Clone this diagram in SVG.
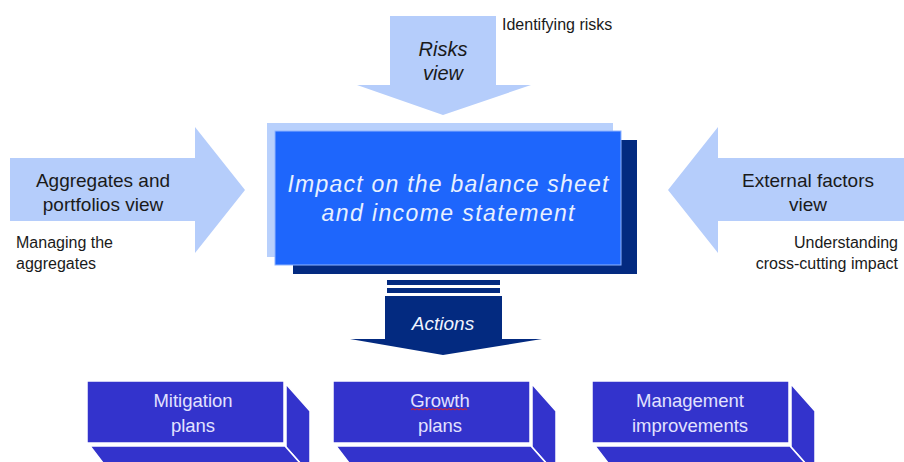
<svg xmlns="http://www.w3.org/2000/svg" width="904" height="462" viewBox="0 0 904 462">
<style>
.light{fill:#b5cdfb}
.dk{fill:#1a1a1a;font-family:"Liberation Sans",Arial,sans-serif}
.big{font-size:19px}
.small{font-size:16px}
.face{fill:#3333cc;stroke:#ffffff;stroke-width:1.5}
.btxt{fill:#e2e2ff;font-family:"Liberation Sans",Arial,sans-serif;font-size:18.5px;text-anchor:middle}
</style>
<rect width="904" height="462" fill="#ffffff"/>

<g id="node-risks">
<polygon class="light" points="390,16 496,16 496,85 531,85 443,115 357,85 390,85"/>
<text class="dk" x="443" y="56" font-size="20" font-style="italic" text-anchor="middle">Risks</text>
<text class="dk" x="443" y="80" font-size="20" font-style="italic" text-anchor="middle">view</text>
<text class="dk small" x="502" y="30">Identifying risks</text>
</g>

<g id="node-aggregates">
<polygon class="light" points="10,158 195,158 195,127 245,190 195,253 195,221 10,221"/>
<text class="dk big" x="103" y="187" text-anchor="middle">Aggregates and</text>
<text class="dk big" x="103" y="211" text-anchor="middle">portfolios view</text>
<text class="dk small" x="16" y="248">Managing the</text>
<text class="dk small" x="16" y="269">aggregates</text>
</g>

<g id="node-external">
<polygon class="light" points="904,158 718,158 718,127 668,190 718,253 718,221 904,221"/>
<text class="dk big" x="808" y="187" text-anchor="middle">External factors</text>
<text class="dk big" x="808" y="211" text-anchor="middle">view</text>
<text class="dk small" x="898" y="248" text-anchor="end">Understanding</text>
<text class="dk small" x="898" y="269" text-anchor="end">cross-cutting impact</text>
</g>

<g id="node-impact">
<rect x="267" y="123" width="346" height="134" fill="#b8d0fc"/>
<rect x="293" y="140" width="344" height="134" fill="#032a80"/>
<rect x="275" y="131" width="346" height="134" fill="#1e66fc" stroke="#8fb4ff" stroke-width="1"/>
<text x="448" y="192" fill="#e8f0ff" font-family="'Liberation Sans',Arial,sans-serif" font-size="23" font-style="italic" text-anchor="middle" textLength="321" lengthAdjust="spacing">Impact on the balance sheet</text>
<text x="448" y="221" fill="#e8f0ff" font-family="'Liberation Sans',Arial,sans-serif" font-size="23" font-style="italic" text-anchor="middle" textLength="253" lengthAdjust="spacing">and income statement</text>
</g>

<g id="connectors">
<rect x="387" y="280" width="113" height="5" fill="#032a80"/>
<rect x="387" y="288" width="113" height="5" fill="#032a80"/>
</g>

<g id="node-actions">
<polygon points="385,296 502,296 502,339 542,339 443,355 350,339 385,339" fill="#032a80"/>
<text x="443" y="330" fill="#f0f4ff" font-family="'Liberation Sans',Arial,sans-serif" font-size="19" font-style="italic" text-anchor="middle">Actions</text>
</g>

<g id="node-mitigation">
<polygon class="face" points="286,384 310,411 310,474 286,447"/>
<polygon class="face" points="90,446 285,446 308,472 110,472"/>
<rect class="face" x="87" y="381" width="197" height="62"/>
<text class="btxt" x="193" y="407">Mitigation</text>
<text class="btxt" x="193" y="432">plans</text>
</g>

<g id="node-growth">
<polygon class="face" points="532,384 556,411 556,474 532,447"/>
<polygon class="face" points="336,446 531,446 554,472 356,472"/>
<rect class="face" x="333" y="381" width="197" height="62"/>
<text class="btxt" x="440" y="407">Growth</text>
<text class="btxt" x="440" y="432">plans</text>
<path d="M411,410 l2,-1.5 l2,1.5 l2,-1.5 l2,1.5 l2,-1.5 l2,1.5 l2,-1.5 l2,1.5 l2,-1.5 l2,1.5 l2,-1.5 l2,1.5 l2,-1.5 l2,1.5 l2,-1.5 l2,1.5 l2,-1.5 l2,1.5 l2,-1.5 l2,1.5 l2,-1.5 l2,1.5 l2,-1.5 l2,1.5 l2,-1.5 l2,1.5 l2,-1.5 l2,1.5" fill="none" stroke="#e02020" stroke-width="1"/>
</g>

<g id="node-management">
<polygon class="face" points="791,384 815,411 815,474 791,447"/>
<polygon class="face" points="595,446 790,446 813,472 615,472"/>
<rect class="face" x="592" y="381" width="197" height="62"/>
<text class="btxt" x="690" y="407">Management</text>
<text class="btxt" x="690" y="432">improvements</text>
</g>
</svg>
